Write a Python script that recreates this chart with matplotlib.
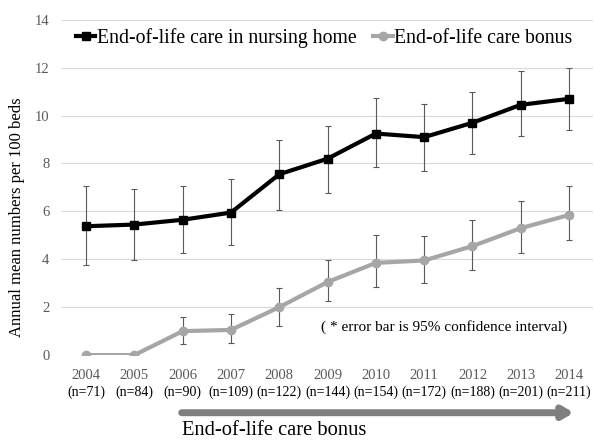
import numpy as np
import matplotlib.pyplot as plt
import matplotlib.transforms as mtransforms

plt.rcParams['font.family'] = ['Liberation Serif', 'DejaVu Serif']

# ================= DATA =================
years = ["2004", "2005", "2006", "2007", "2008", "2009", "2010", "2011", "2012", "2013", "2014"]
n_counts = [71, 84, 90, 109, 122, 144, 154, 172, 188, 201, 211]

nursing = [5.38, 5.45, 5.65, 5.95, 7.55, 8.2, 9.25, 9.1, 9.7, 10.45, 10.7]
nursing_lo = [3.78, 3.97, 4.25, 4.6, 6.07, 6.78, 7.85, 7.7, 8.4, 9.15, 9.4]
nursing_hi = [7.05, 6.95, 7.08, 7.35, 9.0, 9.55, 10.75, 10.5, 11.0, 11.85, 12.0]

bonus = [0, 0, 1.0, 1.05, 2.0, 3.05, 3.85, 3.95, 4.55, 5.3, 5.85]
bonus_lo = [0, 0, 0.45, 0.5, 1.2, 2.25, 2.86, 3.02, 3.56, 4.28, 4.81]
bonus_hi = [0, 0, 1.6, 1.7, 2.8, 3.95, 5.02, 4.98, 5.62, 6.45, 7.05]

# ================= PLOT =================
fig = plt.figure(figsize=(5.95, 4.4), dpi=100)
ax = fig.add_axes([0.104, 0.193, 0.893, 0.762])

x = np.arange(len(years))
nursing = np.array(nursing)
bonus = np.array(bonus)

err_n = [nursing - np.array(nursing_lo), np.array(nursing_hi) - nursing]
has_err = np.array(bonus_hi) > 0
err_b = [(bonus - np.array(bonus_lo))[has_err], (np.array(bonus_hi) - bonus)[has_err]]

ax.errorbar(x, nursing, yerr=err_n, fmt='none', ecolor='#595959', elinewidth=0.8,
            capsize=2.5, capthick=0.8, zorder=2)
ax.errorbar(x[has_err], bonus[has_err], yerr=err_b, fmt='none', ecolor='#595959',
            elinewidth=0.8, capsize=2.5, capthick=0.8, zorder=2)

ax.plot(x, bonus, color='#a6a6a6', lw=3, marker='o', ms=6, mfc='#a6a6a6', mec='#a6a6a6',
        label='End-of-life care bonus', zorder=3)
ax.plot(x, nursing, color='black', lw=3, marker='s', ms=6,
        label='End-of-life care in nursing home', zorder=4)

ax.set_xlim(-0.5, len(years) - 0.5)
ax.set_ylim(0, 14)
ax.set_yticks(range(0, 15, 2))
ax.grid(axis='y', color='#d9d9d9', lw=0.8)
ax.set_axisbelow(True)
for s in ax.spines.values():
    s.set_visible(False)
ax.tick_params(length=0, labelsize=10.5, labelcolor='#595959')
ax.tick_params(axis='y', pad=9)
ax.tick_params(axis='x', pad=10)
ax.set_xticks(x)
ax.set_xticklabels(years)

# sample sizes under the years
trans = mtransforms.blended_transform_factory(ax.transData, fig.transFigure)
for xi, n in zip(x, n_counts):
    ax.text(xi, 1 - 392 / 440, f"(n={n})", transform=trans, ha='center', va='center',
            fontsize=10, color='black')

ax.set_ylabel("Annual mean numbers per 100 beds", fontsize=12)
ax.yaxis.set_label_coords(-0.07, 0.41)

handles, labels = ax.get_legend_handles_labels()
ax.legend(handles[::-1], labels[::-1], loc='center left', bbox_to_anchor=(0.0, 0.946),
          ncol=2, frameon=False, fontsize=14.2, handlelength=1.0, handletextpad=0.1,
          columnspacing=0.8, borderaxespad=0.3, labelcolor='black')

ax.text(0.72, 0.083, "( * error bar is 95% confidence interval)", transform=ax.transAxes,
        ha='center', va='center', fontsize=11)

# bonus period arrow under the axis
ax.annotate("", xy=(10.1, 0.062), xytext=(1.98, 0.062), xycoords=trans, textcoords=trans,
            arrowprops=dict(arrowstyle='-|>,head_length=0.6,head_width=0.35',
                            color='#7f7f7f', lw=5, shrinkA=0, shrinkB=0),
            annotation_clip=False)
ax.text(1.98, 0.022, "End-of-life care bonus", transform=trans, ha='left', va='center',
        fontsize=14.8)

fig.savefig("out.png", dpi=100)
